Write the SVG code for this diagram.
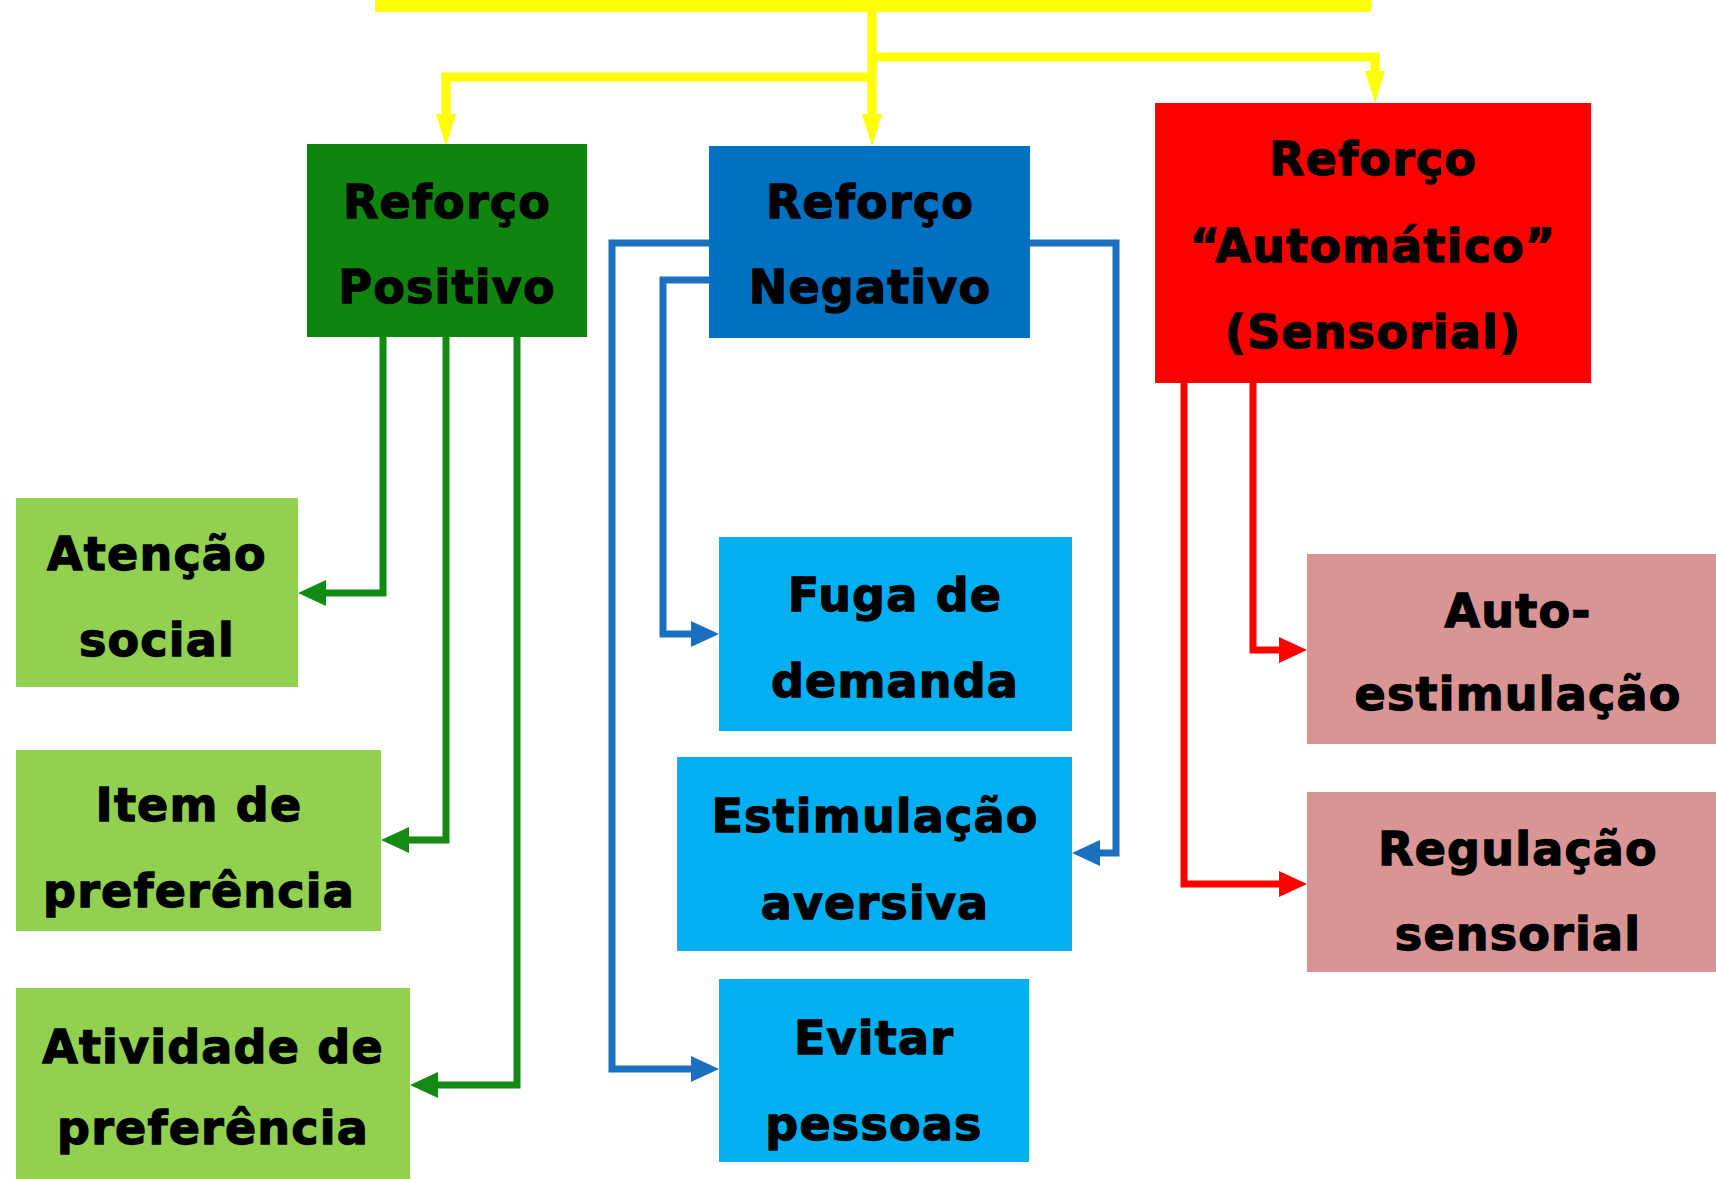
<svg xmlns="http://www.w3.org/2000/svg" width="1716" height="1179" viewBox="0 0 1716 1179">
<style>
text{font-family:"DejaVu Sans","Verdana",sans-serif;font-weight:bold;font-size:46px;letter-spacing:1.2px;fill:#000;stroke:#000;stroke-width:1.3px;text-anchor:middle}
.c{fill:none;stroke-width:7;stroke-linejoin:miter}
.cy{stroke:#ffff00;stroke-width:9}
.cg{stroke:#138a13}
.cb{stroke:#1a6fc0}
.cr{stroke:#ff0000}
</style>
<defs>
<marker id="ay" markerUnits="userSpaceOnUse" markerWidth="34" markerHeight="22" refX="6" refY="10" orient="auto"><path d="M0,0 L32,10 L0,20 z" fill="#ffff00"/></marker>
<marker id="ag" markerUnits="userSpaceOnUse" markerWidth="30" markerHeight="28" refX="6" refY="13" orient="auto"><path d="M0,0 L28,13 L0,26 z" fill="#138a13"/></marker>
<marker id="ab" markerUnits="userSpaceOnUse" markerWidth="30" markerHeight="28" refX="6" refY="13" orient="auto"><path d="M0,0 L28,13 L0,26 z" fill="#1a6fc0"/></marker>
<marker id="ar" markerUnits="userSpaceOnUse" markerWidth="30" markerHeight="28" refX="6" refY="13" orient="auto"><path d="M0,0 L28,13 L0,26 z" fill="#ff0000"/></marker>
</defs>
<rect width="1716" height="1179" fill="#ffffff"/>
<g id="connectors">
<path class="c cy" d="M872,10 V120" marker-end="url(#ay)"/>
<path class="c cy" d="M872,77 H446 V120" marker-end="url(#ay)"/>
<path class="c cy" d="M872,57 H1375 V77" marker-end="url(#ay)"/>
<path class="c cg" d="M383,337 V593 H320" marker-end="url(#ag)"/>
<path class="c cg" d="M446,337 V840 H403" marker-end="url(#ag)"/>
<path class="c cg" d="M517,337 V1085 H432" marker-end="url(#ag)"/>
<path class="c cb" d="M709,243 H612 V1069 H697" marker-end="url(#ab)"/>
<path class="c cb" d="M709,280 H663 V634 H697" marker-end="url(#ab)"/>
<path class="c cb" d="M1030,243 H1116 V853 H1094" marker-end="url(#ab)"/>
<path class="c cr" d="M1253,383 V650 H1285" marker-end="url(#ar)"/>
<path class="c cr" d="M1184,383 V884 H1285" marker-end="url(#ar)"/>
</g>
<g id="root"><rect x="375" y="-20" width="996" height="32" fill="#ffff00"/></g>
<g id="reforco-positivo"><rect x="307" y="144" width="280" height="193" fill="#0f850f"/><text x="447" y="218">Reforço</text><text x="447" y="303">Positivo</text></g>
<g id="reforco-negativo"><rect x="709" y="146" width="321" height="192" fill="#0070c0"/><text x="870" y="218">Reforço</text><text x="870" y="303">Negativo</text></g>
<g id="reforco-automatico"><rect x="1155" y="103" width="436" height="280" fill="#ff0000"/><text x="1373" y="175">Reforço</text><text x="1373" y="262">“Automático”</text><text x="1373" y="348">(Sensorial)</text></g>
<g id="atencao-social"><rect x="16" y="498" width="282" height="189" fill="#92d050"/><text x="157" y="570">Atenção</text><text x="157" y="656">social</text></g>
<g id="item-preferencia"><rect x="16" y="750" width="365" height="181" fill="#92d050"/><text x="199" y="821">Item de</text><text x="199" y="907">preferência</text></g>
<g id="atividade-preferencia"><rect x="16" y="988" width="394" height="201" fill="#92d050"/><text x="213" y="1063">Atividade de</text><text x="213" y="1144">preferência</text></g>
<g id="fuga-demanda"><rect x="719" y="537" width="353" height="194" fill="#00b0f0"/><text x="895" y="611">Fuga de</text><text x="895" y="697">demanda</text></g>
<g id="estimulacao-aversiva"><rect x="677" y="757" width="395" height="194" fill="#00b0f0"/><text x="875" y="832">Estimulação</text><text x="875" y="919">aversiva</text></g>
<g id="evitar-pessoas"><rect x="719" y="979" width="310" height="183" fill="#00b0f0"/><text x="874" y="1054">Evitar</text><text x="874" y="1140">pessoas</text></g>
<g id="auto-estimulacao"><rect x="1307" y="554" width="420" height="190" fill="#d99594"/><text x="1518" y="627">Auto-</text><text x="1518" y="710">estimulação</text></g>
<g id="regulacao-sensorial"><rect x="1307" y="792" width="420" height="180" fill="#d99594"/><text x="1518" y="865">Regulação</text><text x="1518" y="950">sensorial</text></g>
</svg>
